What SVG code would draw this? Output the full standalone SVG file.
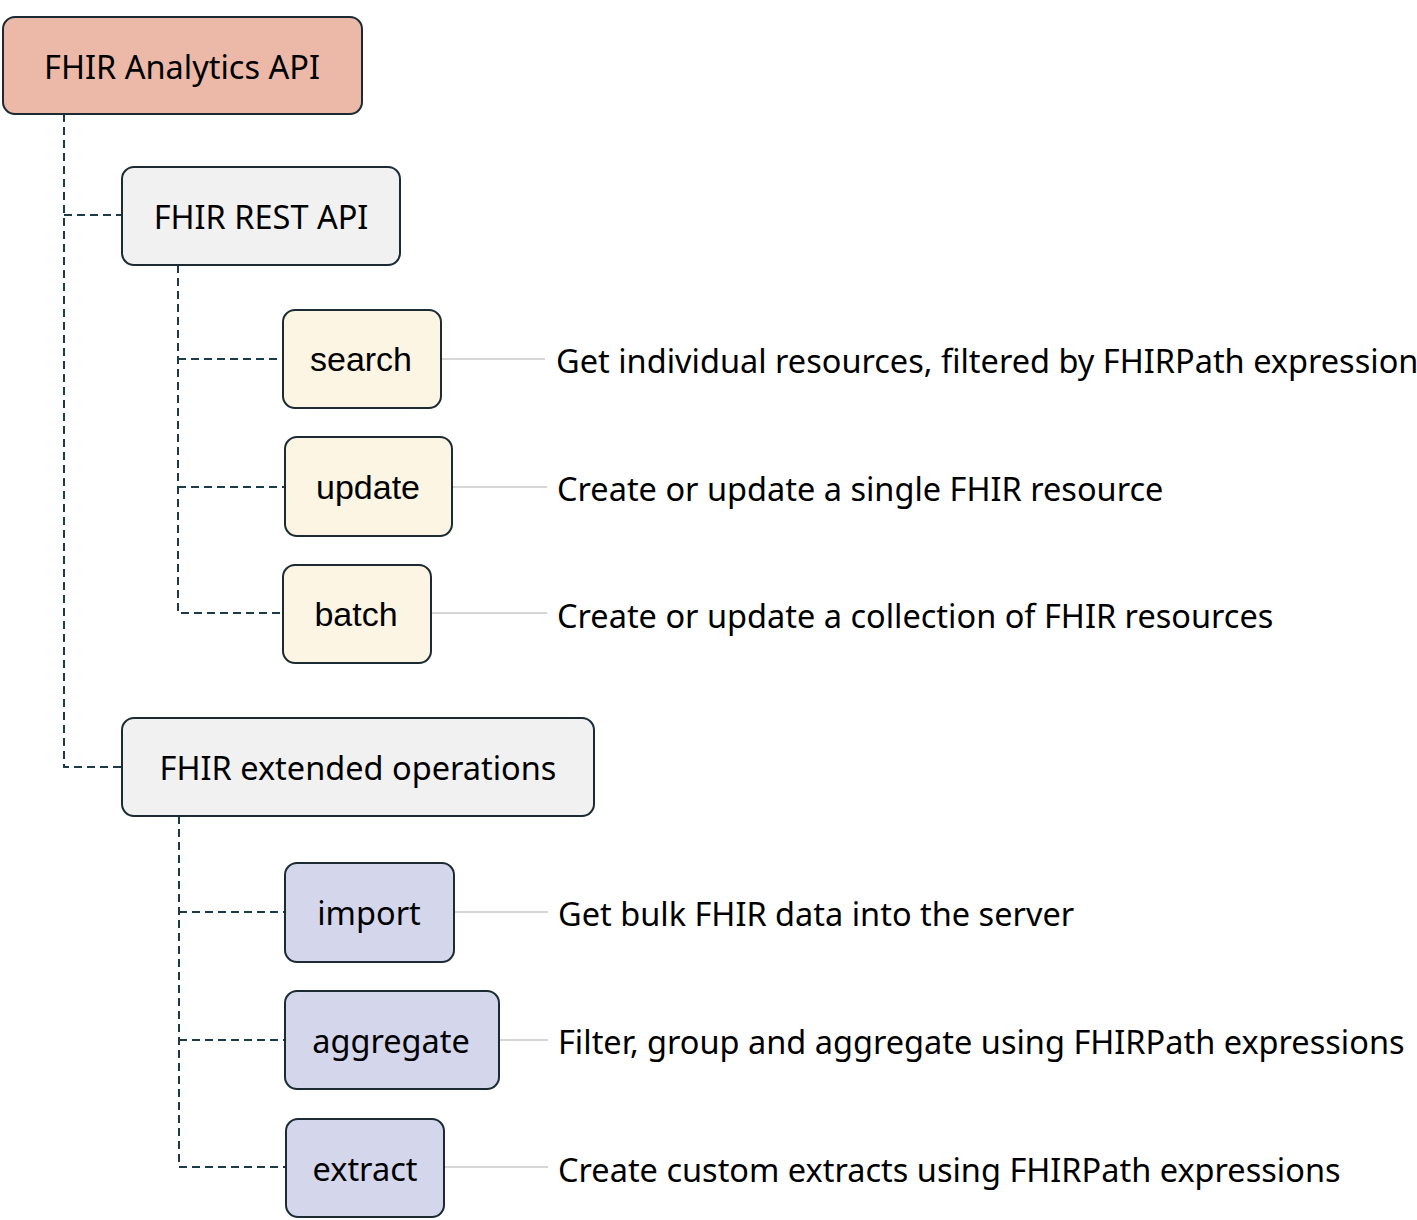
<svg xmlns="http://www.w3.org/2000/svg" width="1417" height="1220" viewBox="0 0 1417 1220">
<style>
.box{stroke:#1c2b33;stroke-width:2}
.root{fill:#ecb9a8}
.grey{fill:#f1f1f1}
.yel{fill:#fcf5e3}
.blue{fill:#d4d6ec}
.t{font-family:"Noto Sans","Open Sans",sans-serif;font-size:32.5px;fill:#000;text-anchor:middle;dominant-baseline:central}
.h{font-family:"Liberation Sans",Arial,sans-serif;font-size:34px;fill:#000;text-anchor:middle;dominant-baseline:central}
.d{font-family:"Noto Sans","Open Sans",sans-serif;font-size:32.5px;fill:#000;dominant-baseline:central}
.dash{stroke:#1c3a47;stroke-width:2;stroke-dasharray:8 5;fill:none}
.gl{stroke:#d6d6d6;stroke-width:2;fill:none}
</style>
<rect width="1417" height="1220" fill="#fff"/>
<g id="connectors">
<path class="dash" d="M64 114 V767 H122"/>
<path class="dash" d="M64 215 H122"/>
<path class="dash" d="M178 265 V613 H283"/>
<path class="dash" d="M178 359 H283"/>
<path class="dash" d="M178 487 H285"/>
<path class="dash" d="M179 816 V1167 H286"/>
<path class="dash" d="M179 912 H285"/>
<path class="dash" d="M179 1040 H285"/>
<path class="gl" d="M441 359 H545"/>
<path class="gl" d="M452 487 H547"/>
<path class="gl" d="M431 613 H547"/>
<path class="gl" d="M454 912 H548"/>
<path class="gl" d="M499 1040 H548"/>
<path class="gl" d="M444 1167 H548"/>
</g>
<g id="root"><rect class="box root" x="3" y="17" width="359" height="97" rx="12"/><text class="t" x="182" y="66">FHIR Analytics API</text></g>
<g id="rest"><rect class="box grey" x="122" y="167" width="278" height="98" rx="12"/><text class="t" x="261" y="216">FHIR REST API</text></g>
<g id="search"><rect class="box yel" x="283" y="310" width="158" height="98" rx="12"/><text class="h" x="361" y="359">search</text></g>
<g id="update"><rect class="box yel" x="285" y="437" width="167" height="99" rx="12"/><text class="h" x="368" y="487">update</text></g>
<g id="batch"><rect class="box yel" x="283" y="565" width="148" height="98" rx="12"/><text class="h" x="356" y="614">batch</text></g>
<g id="ext"><rect class="box grey" x="122" y="718" width="472" height="98" rx="12"/><text class="t" x="358" y="767">FHIR extended operations</text></g>
<g id="import"><rect class="box blue" x="285" y="863" width="169" height="99" rx="12"/><text class="t" x="369" y="912">import</text></g>
<g id="aggregate"><rect class="box blue" x="285" y="991" width="214" height="98" rx="12"/><text class="t" x="391" y="1040">aggregate</text></g>
<g id="extract"><rect class="box blue" x="286" y="1119" width="158" height="98" rx="12"/><text class="t" x="365" y="1168">extract</text></g>
<g id="descriptions">
<text class="d" x="556" y="360">Get individual resources, filtered by FHIRPath expression</text>
<text class="d" x="557" y="488">Create or update a single FHIR resource</text>
<text class="d" x="557" y="615">Create or update a collection of FHIR resources</text>
<text class="d" x="558" y="913">Get bulk FHIR data into the server</text>
<text class="d" x="558" y="1041">Filter, group and aggregate using FHIRPath expressions</text>
<text class="d" x="558" y="1169">Create custom extracts using FHIRPath expressions</text>
</g>
</svg>
